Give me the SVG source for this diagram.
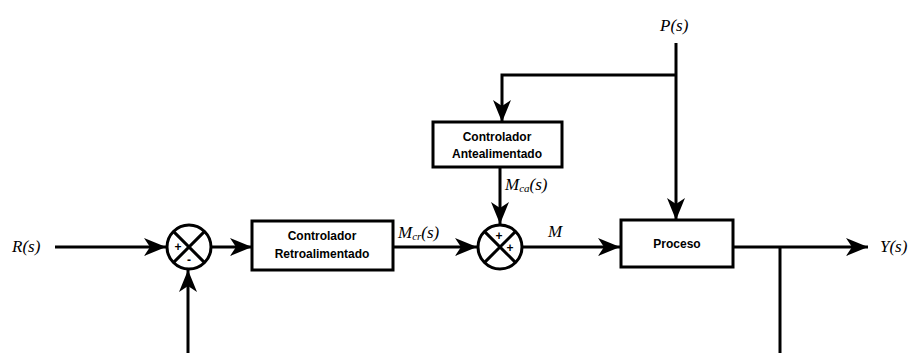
<svg xmlns="http://www.w3.org/2000/svg" width="914" height="353" viewBox="0 0 914 353">
<style>
.blk{fill:#fff;stroke:#000;stroke-width:3}
.ln{fill:none;stroke:#000;stroke-width:3}
.bt{font-family:"Liberation Sans",Arial,sans-serif;font-weight:900;font-size:12px;text-anchor:middle}
.mt{font-family:"Liberation Serif","Times New Roman",serif;font-style:italic;font-size:17px}
.sub{font-size:11px}
.sg{font-family:"Liberation Sans",Arial,sans-serif;font-weight:bold;font-size:12px;text-anchor:middle}
</style>
<defs>
<marker id="ah" markerUnits="userSpaceOnUse" markerWidth="24" markerHeight="20" refX="22" refY="10" orient="auto">
<path d="M0,1 L22,10 L0,19 L6,10 Z" fill="#000"/>
</marker>
</defs>
<rect width="914" height="353" fill="#fff"/>
<g id="connectors">
<line class="ln" x1="55" y1="247" x2="166" y2="247" marker-end="url(#ah)"/>
<line class="ln" x1="212" y1="247" x2="252" y2="247" marker-end="url(#ah)"/>
<line class="ln" x1="188" y1="353" x2="188" y2="270" marker-end="url(#ah)"/>
<line class="ln" x1="393" y1="247" x2="477" y2="247" marker-end="url(#ah)"/>
<line class="ln" x1="523" y1="247" x2="620" y2="247" marker-end="url(#ah)"/>
<line class="ln" x1="733" y1="247" x2="868" y2="247" marker-end="url(#ah)"/>
<line class="ln" x1="780" y1="247" x2="780" y2="353"/>
<line class="ln" x1="676" y1="43" x2="676" y2="220" marker-end="url(#ah)"/>
<path class="ln" d="M676,75 H502 V122" marker-end="url(#ah)"/>
<line class="ln" x1="500" y1="167" x2="500" y2="224" marker-end="url(#ah)"/>
</g>
<g id="sum1">
<circle cx="189" cy="247" r="22" class="blk"/>
<path class="ln" d="M173.4,231.4 L204.6,262.6 M204.6,231.4 L173.4,262.6"/>
<text class="sg" x="178" y="251">+</text>
<text class="sg" x="189" y="264">-</text>
</g>
<g id="sum2">
<circle cx="500" cy="247" r="22" class="blk"/>
<path class="ln" d="M484.4,231.4 L515.6,262.6 M515.6,231.4 L484.4,262.6"/>
<text class="sg" x="499" y="240">+</text>
<text class="sg" x="510" y="252">+</text>
</g>
<g id="retro">
<rect class="blk" x="252" y="221" width="141" height="49"/>
<text class="bt" x="322" y="240">Controlador</text>
<text class="bt" x="322" y="258">Retroalimentado</text>
</g>
<g id="ante">
<rect class="blk" x="433" y="122" width="129" height="45"/>
<text class="bt" x="497" y="141">Controlador</text>
<text class="bt" x="497" y="158">Antealimentado</text>
</g>
<g id="proceso">
<rect class="blk" x="621" y="220" width="112" height="47"/>
<text class="bt" x="677" y="248">Proceso</text>
</g>
<g id="labels">
<text class="mt" x="12" y="252">R(s)</text>
<text class="mt" x="398" y="238">M<tspan class="sub" dy="2">cr</tspan><tspan dy="-2">(s)</tspan></text>
<text class="mt" x="505" y="190">M<tspan class="sub" dy="2">ca</tspan><tspan dy="-2">(s)</tspan></text>
<text class="mt" x="548" y="237">M</text>
<text class="mt" x="660" y="31">P(s)</text>
<text class="mt" x="880" y="252">Y(s)</text>
</g>
</svg>
